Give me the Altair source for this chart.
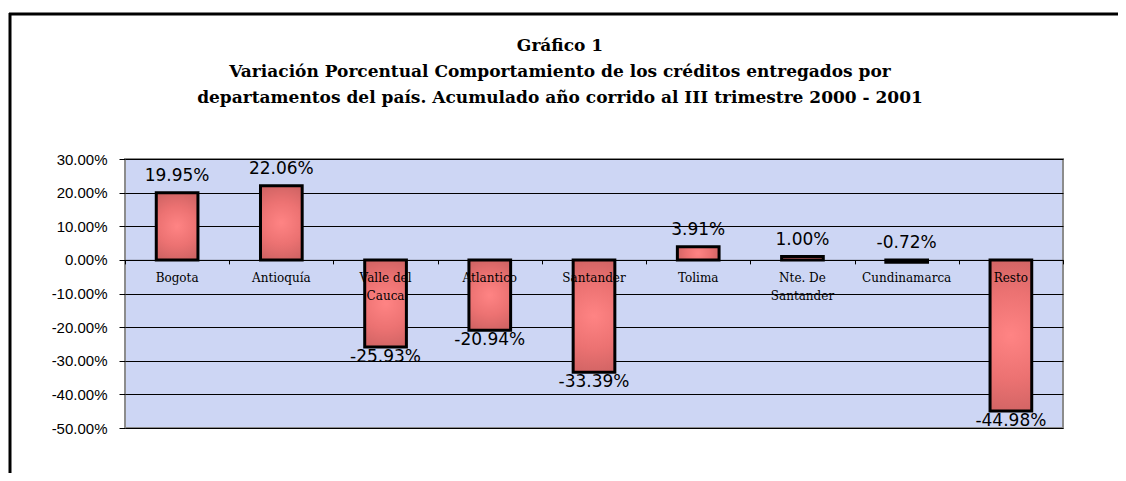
import altair as alt
import pandas as pd

categories = ["Bogota", "Antioquía", "Valle del\nCauca", "Atlantico", "Santander",
              "Tolima", "Nte. De\nSantander", "Cundinamarca", "Resto"]
values = [19.95, 22.06, -25.93, -20.94, -33.39, 3.91, 1.00, -0.72, -44.98]
y_ticks = [-50, -40, -30, -20, -10, 0, 10, 20, 30]
title_lines = [
    "Gráfico 1",
    "Variación Porcentual Comportamiento de los créditos entregados por",
    "departamentos del país. Acumulado año corrido al III trimestre 2000 - 2001",
]

W, H = 938, 269

df = pd.DataFrame({"cat": categories, "value": values})
df["label"] = [f"{v:.2f}%" for v in values]
df["zero"] = 0.0

x_enc = alt.X("cat:N", sort=categories, title=None,
              scale=alt.Scale(paddingInner=0, paddingOuter=0),
              axis=alt.Axis(labels=False, domain=True, domainColor="#000000", domainWidth=1,
                            ticks=True, tickBand="extent", tickColor="#000000", tickSize=4,
                            offset=-H * 50 / 80, grid=False))
y_scale = alt.Scale(domain=[-50, 30], nice=False, zero=False)

base = alt.Chart(df)

bar_grad = alt.Gradient(
    gradient="radial",
    stops=[alt.GradientStop(color="#FF8484", offset=0),
           alt.GradientStop(color="#EC7272", offset=0.4),
           alt.GradientStop(color="#BA5858", offset=1)],
    x1=0.5, y1=0.5, x2=0.5, y2=0.5, r1=0, r2=0.72,
)

bars = base.mark_bar(color=bar_grad, stroke="#000000", strokeWidth=3,
                     width={"band": 0.4}).encode(
    x=x_enc,
    y=alt.Y("value:Q", scale=y_scale, title=None,
            axis=alt.Axis(values=y_ticks, tickCount=20, grid=True, gridColor="#000000",
                          gridWidth=1, domain=False, ticks=True, tickColor="#000000",
                          tickSize=6, labelPadding=12, labelFont="Liberation Sans",
                          labelFontSize=15, labelColor="#000000", labelOverlap=False,
                          labelExpr="replace(format(datum.value, '.2f'), '\u2212', '-') + '%'")),
    y2=alt.Y2("zero:Q"),
)

above = base.transform_filter("datum.value > -1").transform_calculate(
    ly="max(datum.value, 0)"
).mark_text(font="DejaVu Sans", fontSize=17, color="#000000",
            baseline="bottom", dy=-8).encode(
    x=alt.X("cat:N", sort=categories),
    y=alt.Y("ly:Q", scale=y_scale),
    text="label:N",
)

below = base.transform_filter("datum.value <= -1").mark_text(
    font="DejaVu Sans", fontSize=17, color="#000000", baseline="middle", dy=10).encode(
    x=alt.X("cat:N", sort=categories),
    y=alt.Y("value:Q", scale=y_scale),
    text="label:N",
)

cat_labels = base.mark_text(font="DejaVu Serif", fontSize=12, color="#000000",
                            baseline="top", dy=13, lineBreak="\n", lineHeight=18).encode(
    x=alt.X("cat:N", sort=categories),
    y=alt.Y("zero:Q", scale=y_scale),
    text="cat:N",
)

frame_df = pd.DataFrame({"k": [0]})
frame_top = alt.Chart(frame_df).mark_rule(color="#000000", strokeWidth=3).encode(
    x=alt.value(-116), x2=alt.value(1010), y=alt.value(-145))
frame_left = alt.Chart(frame_df).mark_rule(color="#000000", strokeWidth=3).encode(
    x=alt.value(-115), y=alt.value(-146), y2=alt.value(340))

chart = alt.layer(bars, above, below, cat_labels, frame_top, frame_left).properties(
    width=W, height=H,
    title=alt.TitleParams(text=title_lines, font="DejaVu Serif", fontSize=17,
                          fontWeight="bold", color="#000000", lineHeight=26,
                          anchor="middle", offset=-95, dx=-34),
    autosize=alt.AutoSizeParams(type="none"),
    padding={"left": 117, "top": 151, "right": 55, "bottom": 45},
).configure(background="#FFFFFF").configure_view(
    fill="#CDD6F4", stroke="#8C8C8C", strokeWidth=2
)

chart.save("out.html", embed_options={"renderer": "svg", "actions": False})
